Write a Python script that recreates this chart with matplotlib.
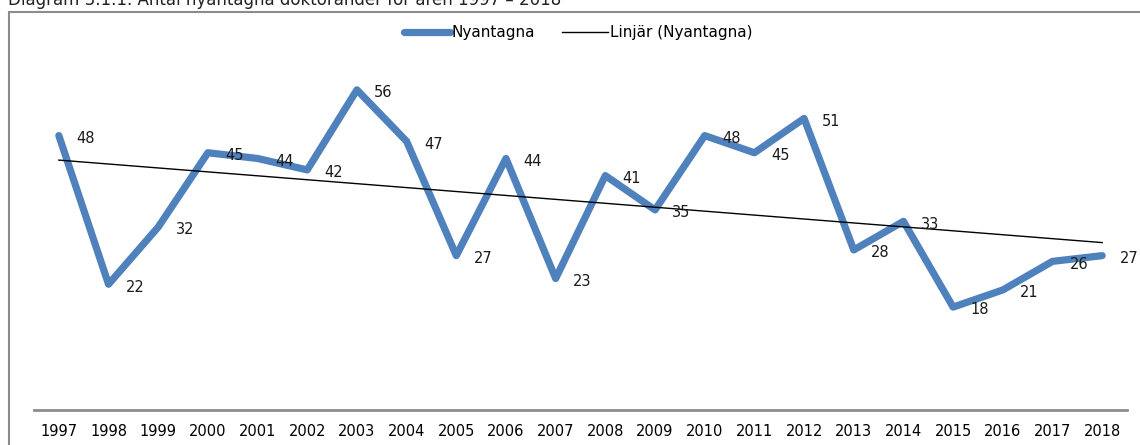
import numpy as np
import matplotlib.pyplot as plt
from matplotlib.patches import Rectangle

# data
years = ['1997', '1998', '1999', '2000', '2001', '2002', '2003', '2004', '2005', '2006', '2007',
         '2008', '2009', '2010', '2011', '2012', '2013', '2014', '2015', '2016', '2017', '2018']
nyantagna = [48, 22, 32, 45, 44, 42, 56, 47, 27, 44, 23, 41, 35, 48, 45, 51, 28, 33, 18, 21, 26, 27]

plt.rcParams['font.family'] = ['DejaVu Sans']

W, H = 1140, 445
fig = plt.figure(figsize=(W / 100, H / 100), dpi=100)

# outer chart frame (cut off at right and bottom)
fig.patches.append(Rectangle((9 / W, -0.05), 1.2, 1 - 12 / H + 0.05, transform=fig.transFigure,
                             fill=False, edgecolor='#8c8c8c', linewidth=1.5))

# title sits partly above the top edge, as in the source
fig.text(8 / W, 1 - 5 / H, 'Diagram 3.1.1. Antal nyantagna doktorander för åren 1997 – 2018',
         fontsize=12, va='baseline', ha='left', color='#222222')

ax = fig.add_axes([34 / W, (H - 410) / H, (1127 - 34) / W, (410 - 67) / H])
x = np.arange(len(years))
ax.plot(x, nyantagna, color='#4f81bd', linewidth=5.2, solid_capstyle='round',
        solid_joinstyle='round', label='Nyantagna')

# linear trend
k, m = np.polyfit(x, nyantagna, 1)
ax.plot(x, k * x + m, color='black', linewidth=1, label='Linjär (Nyantagna)')

for xi, v in zip(x, nyantagna):
    ax.annotate(str(v), (xi, v), xytext=(12.5, -2), textcoords='offset points',
                ha='left', va='center', fontsize=10.5, color='#1a1a1a')

ax.set_xlim(-0.5, len(years) - 0.5)
ax.set_ylim(0, 60)
ax.set_xticks(x)
ax.set_xticklabels(years, fontsize=10.5, color='black')
ax.tick_params(axis='x', length=0, pad=10)
ax.set_yticks([])
for s in ['left', 'right', 'top']:
    ax.spines[s].set_visible(False)
ax.spines['bottom'].set_color('#8c8c8c')
ax.spines['bottom'].set_linewidth(2)

fig.legend(loc='center', bbox_to_anchor=(578 / W, 1 - 33 / H), ncol=2, frameon=False,
           fontsize=11, handlelength=3.0, handletextpad=0.1, columnspacing=1.8)

fig.savefig('out.png', dpi=100)
